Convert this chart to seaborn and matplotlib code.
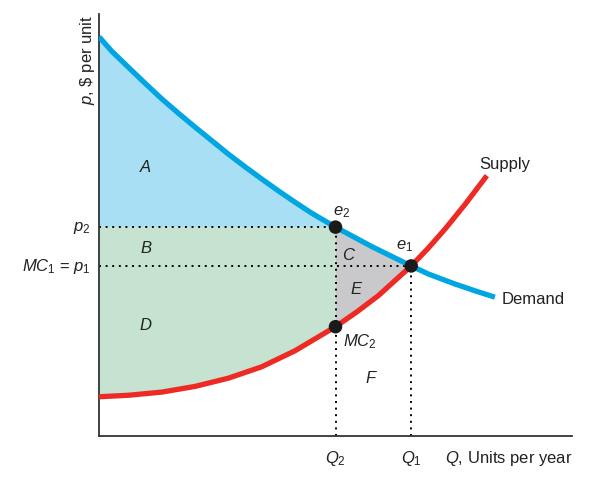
import matplotlib
matplotlib.use("Agg")
import matplotlib.pyplot as plt
import seaborn as sns
import pandas as pd

# ---- data (axes 0..100 on both scales) ----
demand_q = [0.0, 2.68, 6.19, 9.73, 13.26, 16.77, 20.30, 23.83, 27.34, 30.87, 34.40,
            37.91, 41.44, 44.97, 50.0, 57.65, 66.0, 69.6, 75.3, 79.5, 83.7]
demand_p = [94.6, 91.2, 87.4, 83.6, 79.9, 76.5, 73.2, 70.0, 66.8, 63.8, 60.9,
            58.1, 55.4, 52.8, 49.5, 44.9, 40.3, 38.4, 36.0, 34.4, 32.9]
supply_q = [0.0, 6.19, 13.26, 20.30, 27.34, 34.40, 41.44, 50.0, 54.5, 59.05, 66.0,
            69.6, 73.2, 77.4, 82.0]
supply_p = [9.3, 9.65, 10.4, 11.75, 13.7, 16.4, 20.2, 25.9, 29.4, 33.25, 40.3,
            44.5, 49.1, 54.9, 61.7]
Q2, Q1 = 50.0, 66.0
p2, p1 = 49.5, 40.3
mc2 = 25.9
points_q = [Q2, Q1, Q2]
points_p = [p2, p1, mc2]
region_labels = ["A", "B", "D", "C", "E", "F"]
region_pos = [(9.9, 64.0), (9.9, 44.8), (9.9, 26.5), (52.8, 43.1), (54.5, 35.1), (57.7, 14.0)]

sns.set_theme(style="white")
plt.rcParams["font.family"] = ["Liberation Sans", "DejaVu Sans"]
plt.rcParams["mathtext.fontset"] = "custom"
plt.rcParams["mathtext.rm"] = "Liberation Sans"
plt.rcParams["mathtext.it"] = "Liberation Sans:italic"

BLUE = "#00a6e2"
RED = "#ee2a24"
FILL_BLUE = "#a8dff5"
FILL_GREEN = "#c5e3d0"
FILL_GRAY = "#c9c9cc"
FS = 12
TXT = "#222222"

fig = plt.figure(figsize=(6.08, 4.81), dpi=100)
ax = fig.add_axes([99 / 608, 44 / 481, 473 / 608, 422 / 481])
ax.set_xlim(0, 100)
ax.set_ylim(0, 100)

i_e2 = demand_q.index(Q2)
i_e1 = demand_q.index(Q1)
j_mc2 = supply_q.index(Q2)
j_e1 = supply_q.index(Q1)

# blue area A
ax.fill(demand_q[: i_e2 + 1] + [0.0], demand_p[: i_e2 + 1] + [p2],
        color=FILL_BLUE, lw=0, zorder=1)
# green area B + D
ax.fill([0.0, Q2] + supply_q[: j_mc2 + 1][::-1], [p2, p2] + supply_p[: j_mc2 + 1][::-1],
        color=FILL_GREEN, lw=0, zorder=1)
# gray area C + E
ax.fill(demand_q[i_e2: i_e1 + 1] + supply_q[j_mc2: j_e1 + 1][::-1],
        demand_p[i_e2: i_e1 + 1] + supply_p[j_mc2: j_e1 + 1][::-1],
        color=FILL_GRAY, lw=0, zorder=1)

dot = dict(color="black", lw=1.4, linestyle=(0, (1, 2.4)), zorder=2)
ax.plot([0, Q2], [p2, p2], **dot)
ax.plot([0, Q1], [p1, p1], **dot)
ax.plot([Q2, Q2], [0, p2], **dot)
ax.plot([Q1, Q1], [0, p1], **dot)

dfd = pd.DataFrame({"q": demand_q, "p": demand_p})
dfs = pd.DataFrame({"q": supply_q, "p": supply_p})
sns.lineplot(data=dfd, x="q", y="p", sort=False, color=BLUE, lw=3.8, ax=ax, zorder=3,
             solid_capstyle="butt", solid_joinstyle="round")
sns.lineplot(data=dfs, x="q", y="p", sort=False, color=RED, lw=3.8, ax=ax, zorder=3,
             solid_capstyle="butt", solid_joinstyle="round")
sns.scatterplot(x=points_q, y=points_p, color="#1a1a1a", s=95, ax=ax, zorder=4,
                edgecolor="none")

for lab, (x, y) in zip(region_labels, region_pos):
    ax.text(x, y, "$" + lab + "$", fontsize=FS, ha="center", va="center", color=TXT)

ax.text(51.2, 53.3, "$e_2$", fontsize=FS, ha="center", va="center", color=TXT)
ax.text(64.5, 45.3, "$e_1$", fontsize=FS, ha="center", va="center", color=TXT)
ax.text(51.6, 22.6, "$MC_2$", fontsize=FS, ha="left", va="center", color=TXT)
ax.text(85.8, 64.5, "Supply", fontsize=FS, ha="center", va="center", color=TXT)
ax.text(85.2, 32.7, "Demand", fontsize=FS, ha="left", va="center", color=TXT)

ax.text(-1.7, p2, "$p_2$", fontsize=FS, ha="right", va="center", color=TXT, clip_on=False)
ax.text(-1.7, p1, r"$MC_1$ = $p_1$", fontsize=FS, ha="right", va="center", color=TXT,
        clip_on=False)
ax.text(Q2, -5.0, "$Q_2$", fontsize=FS, ha="center", va="center", color=TXT, clip_on=False)
ax.text(Q1, -5.0, "$Q_1$", fontsize=FS, ha="center", va="center", color=TXT, clip_on=False)
ax.text(73.2, -5.0, r"$Q$, Units per year", fontsize=FS, ha="left", va="center",
        color=TXT, clip_on=False)
ax.text(-2.4, 100, r"$p$, \$ per unit", fontsize=FS, ha="center", va="top",
        rotation=90, color=TXT, clip_on=False)

sns.despine(ax=ax)
for s in ["left", "bottom"]:
    ax.spines[s].set_color("#333333")
    ax.spines[s].set_linewidth(1.3)
ax.set_xticks([])
ax.set_yticks([])
ax.set_xlabel("")
ax.set_ylabel("")

fig.savefig("out.png", dpi=100)
